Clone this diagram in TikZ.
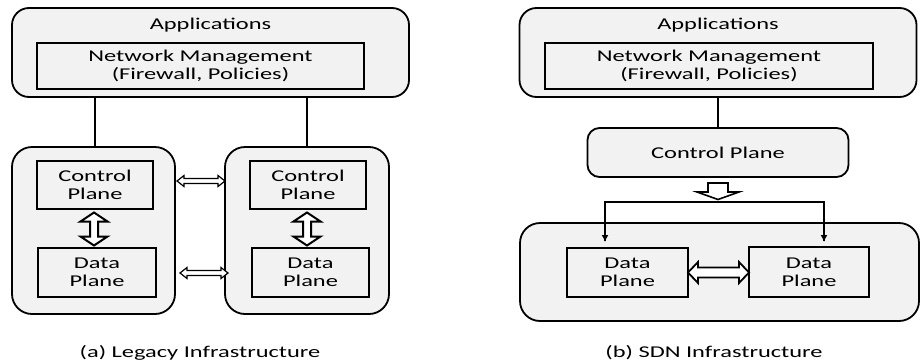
\documentclass[tikz,border=0pt]{standalone}
\usepackage{fontspec}
\setmainfont{Carlito}[FakeStretch=1.48]
\usetikzlibrary{arrows.meta,calc}
\definecolor{boxgray}{HTML}{F2F2F2}
\tikzset{
  outerbox/.style={draw=black, line width=1.8pt, fill=boxgray, rounded corners=17pt, inner sep=0},
  innerbox/.style={draw=black, line width=2.2pt, fill=boxgray, inner sep=0, align=center},
  lbl/.style={inner sep=0, align=center},
  link/.style={draw=black, line width=1.8pt},
  blockarr/.style={draw=black, line width=1.4pt, fill=white, line join=miter},
  tiparr/.style={draw=black, line width=1.8pt, -{Latex[length=7pt,width=7pt]}},
}
\newcommand{\hdarrow}[7][]{% x1 x2 y h H L
  \draw[blockarr,#1] (#2,#4) -- ({#2+#7},{#4-#6}) -- ({#2+#7},{#4-#5}) -- ({#3-#7},{#4-#5}) -- ({#3-#7},{#4-#6}) -- (#3,#4) -- ({#3-#7},{#4+#6}) -- ({#3-#7},{#4+#5}) -- ({#2+#7},{#4+#5}) -- ({#2+#7},{#4+#6}) -- cycle;}
\newcommand{\vdarrow}[7][]{% y1 y2 x h H L
  \draw[blockarr,#1] (#4,#2) -- ({#4-#6},{#2+#7}) -- ({#4-#5},{#2+#7}) -- ({#4-#5},{#3-#7}) -- ({#4-#6},{#3-#7}) -- (#4,#3) -- ({#4+#6},{#3-#7}) -- ({#4+#5},{#3-#7}) -- ({#4+#5},{#2+#7}) -- ({#4+#6},{#2+#7}) -- cycle;}
\begin{document}
\begin{tikzpicture}[x=1pt,y=-1pt, font=\fontsize{16.5}{18}\selectfont]
\useasboundingbox (0,0) rectangle (921,362);
% ---------- (a) Legacy ----------
\node[outerbox, minimum width=397, minimum height=89] (appsL) at (210.5,52.5) {};
\node[lbl] (appsLt) at (210.5,25) {Applications};
\node[innerbox, minimum width=327, minimum height=46] (nmL) at (200.5,66) {Network Management\\(Firewall, Policies)};
\node[outerbox, rounded corners=20pt, minimum width=163, minimum height=167] (devL1) at (93.5,230.5) {};
\node[outerbox, rounded corners=20pt, minimum width=164, minimum height=167] (devL2) at (307,230.5) {};
\node[innerbox, minimum width=116, minimum height=48] (cpL1) at (95,185) {Control\\Plane};
\node[innerbox, minimum width=116, minimum height=48] (cpL2) at (308,185) {Control\\Plane};
\node[innerbox, minimum width=118, minimum height=49] (dpL1) at (97,272.5) {Data\\Plane};
\node[innerbox, minimum width=117, minimum height=49] (dpL2) at (310.5,272.5) {Data\\Plane};
\draw[link] (appsL.south -| cpL1.north) -- (devL1.north -| cpL1.north);
\draw[link] (appsL.south -| devL2.north) -- (devL2.north);
\vdarrow[line width=2pt]{212.5}{245.5}{94}{4}{13.5}{9}
\vdarrow[line width=2pt]{212.5}{245.5}{307}{4}{13.5}{9}
\hdarrow[line width=1.2pt]{177}{225}{181}{2.5}{5.5}{7}
\hdarrow[line width=1.2pt]{180}{228}{273}{2.5}{5.5}{7}
\node[lbl] (capL) at (200,353) {(a) Legacy Infrastructure};
% ---------- (b) SDN ----------
\node[outerbox, minimum width=397, minimum height=89] (appsR) at (718,52.5) {};
\node[lbl] (appsRt) at (718,25) {Applications};
\node[innerbox, minimum width=328, minimum height=46] (nmR) at (709,66) {Network Management\\(Firewall, Policies)};
\node[outerbox, rounded corners=12pt, minimum width=261, minimum height=49] (cpR) at (718,152.5) {Control Plane};
\draw[link] (appsR.south) -- (cpR.north);
\node[outerbox, rounded corners=20pt, minimum width=399, minimum height=98] (infR) at (719.5,272) {};
\node[innerbox, minimum width=121, minimum height=49] (dpR1) at (627.5,272.5) {Data\\Plane};
\node[innerbox, minimum width=120, minimum height=50] (dpR2) at (809,272) {Data\\Plane};
\draw[blockarr, line width=1.6pt] (708,183) -- (728,183) -- (728,192) -- (739,192) -- (718,199.5) -- (697,192) -- (708,192) -- cycle;
\coordinate (brL) at (605,202);
\coordinate (brR) at (824,202);
\draw[link, line join=miter] (605,241) -- (brL) -- (brR) -- (824,241);
\draw[tiparr] (brL) -- (605,242);
\draw[tiparr] (brR) -- (824,242);
\hdarrow[line width=1.8pt]{688}{749}{272.5}{5}{10.5}{10}
\node[lbl] (capR) at (714,353) {(b) SDN Infrastructure};
\end{tikzpicture}
\end{document}
